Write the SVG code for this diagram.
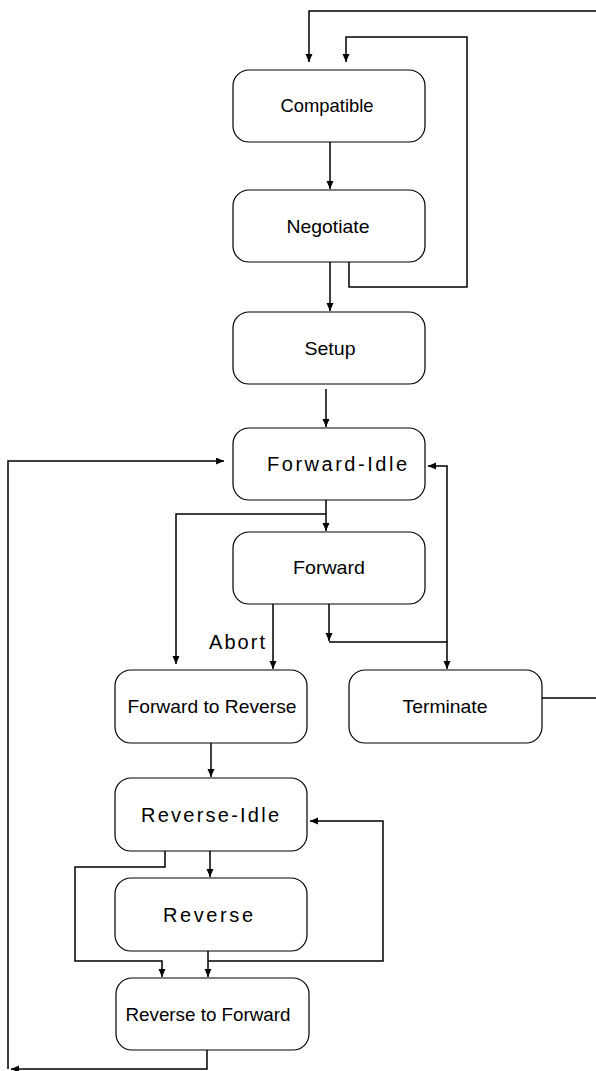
<svg xmlns="http://www.w3.org/2000/svg" width="596" height="1071" viewBox="0 0 596 1071">
<style>
.box{fill:#fff;stroke:#000;stroke-width:1.2}
.c{fill:none;stroke:#000;stroke-width:1.5}
.t{font-family:"Liberation Sans",Arial,sans-serif;font-size:19px;fill:#000;text-anchor:middle}
.tl{font-family:"Liberation Sans",Arial,sans-serif;font-size:20px;fill:#000;text-anchor:middle}
</style>
<defs>
<marker id="a" markerWidth="9" markerHeight="8" refX="8" refY="3.5" orient="auto" markerUnits="userSpaceOnUse">
<path d="M0,0 L8,3.5 L0,7 z" fill="#000"/>
</marker>
</defs>
<rect width="596" height="1071" fill="#fff"/>
<g id="connectors">
<path class="c" d="M596,11 H309 V62" marker-end="url(#a)"/>
<path class="c" d="M349,262 V287 H467 V37 H346 V62" marker-end="url(#a)"/>
<path class="c" d="M330,142 V189" marker-end="url(#a)"/>
<path class="c" d="M330,262 V311" marker-end="url(#a)"/>
<path class="c" d="M326,389 V427" marker-end="url(#a)"/>
<path class="c" d="M326,500 V531" marker-end="url(#a)"/>
<path class="c" d="M326,514 H176 V664" marker-end="url(#a)"/>
<path class="c" d="M273,604 V669" marker-end="url(#a)"/>
<path class="c" d="M329,604 V641" marker-end="url(#a)"/>
<path class="c" d="M329,642 H447 V669" marker-end="url(#a)"/>
<path class="c" d="M447,642 V466 H428" marker-end="url(#a)"/>
<path class="c" d="M542,698 H596"/>
<path class="c" d="M211,743 V777" marker-end="url(#a)"/>
<path class="c" d="M210,851 V877" marker-end="url(#a)"/>
<path class="c" d="M165,851 V867 H75 V961 H162 V977" marker-end="url(#a)"/>
<path class="c" d="M208,951 V977" marker-end="url(#a)"/>
<path class="c" d="M208,961 H383 V821 H310" marker-end="url(#a)"/>
<path class="c" d="M207,1050 V1069 H11" marker-end="url(#a)"/>
<path class="c" d="M8,1069 V461 H224" marker-end="url(#a)"/>
<text class="tl" x="237" y="649" textLength="56" lengthAdjust="spacing">Abort</text>
</g>
<g id="compatible"><rect class="box" x="233" y="70" width="192" height="72" rx="16"/><text class="t" x="327" y="112" textLength="93" lengthAdjust="spacingAndGlyphs">Compatible</text></g>
<g id="negotiate"><rect class="box" x="233" y="190" width="192" height="72" rx="16"/><text class="t" x="328" y="233" textLength="83" lengthAdjust="spacingAndGlyphs">Negotiate</text></g>
<g id="setup"><rect class="box" x="233" y="312" width="192" height="72" rx="16"/><text class="t" x="330" y="355" textLength="51" lengthAdjust="spacingAndGlyphs">Setup</text></g>
<g id="forward-idle"><rect class="box" x="233" y="428" width="192" height="72" rx="16"/><text class="tl" x="337" y="471" textLength="140" lengthAdjust="spacing">Forward-Idle</text></g>
<g id="forward"><rect class="box" x="233" y="532" width="192" height="72" rx="16"/><text class="t" x="329" y="574" textLength="72" lengthAdjust="spacingAndGlyphs">Forward</text></g>
<g id="forward-to-reverse"><rect class="box" x="115" y="670" width="192" height="73" rx="16"/><text class="t" x="212" y="713" textLength="169" lengthAdjust="spacingAndGlyphs">Forward to Reverse</text></g>
<g id="terminate"><rect class="box" x="349" y="670" width="193" height="73" rx="16"/><text class="t" x="445" y="713" textLength="85" lengthAdjust="spacingAndGlyphs">Terminate</text></g>
<g id="reverse-idle"><rect class="box" x="115" y="778" width="192" height="73" rx="16"/><text class="tl" x="210" y="822" textLength="138" lengthAdjust="spacing">Reverse-Idle</text></g>
<g id="reverse"><rect class="box" x="115" y="878" width="192" height="73" rx="16"/><text class="tl" x="208" y="922" textLength="90" lengthAdjust="spacing">Reverse</text></g>
<g id="reverse-to-forward"><rect class="box" x="116" y="978" width="193" height="72" rx="16"/><text class="t" x="208" y="1021" textLength="165" lengthAdjust="spacingAndGlyphs">Reverse to Forward</text></g>
</svg>
